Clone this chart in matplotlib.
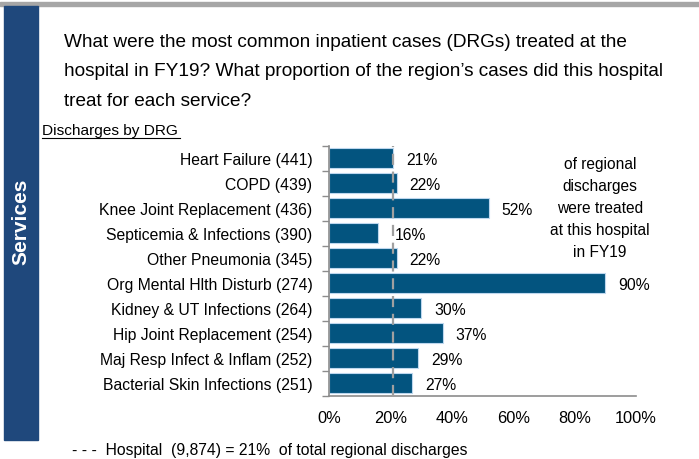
import matplotlib

matplotlib.use("Agg")
import matplotlib.pyplot as plt
from matplotlib.patches import Rectangle

plt.rcParams["font.family"] = ["Liberation Sans", "DejaVu Sans"]

# datos
categorias = [
    "Heart Failure (441)",
    "COPD (439)",
    "Knee Joint Replacement (436)",
    "Septicemia & Infections (390)",
    "Other Pneumonia (345)",
    "Org Mental Hlth Disturb (274)",
    "Kidney & UT Infections (264)",
    "Hip Joint Replacement (254)",
    "Maj Resp Infect & Inflam (252)",
    "Bacterial Skin Infections (251)",
]
pct_regional = [21, 22, 52, 16, 22, 90, 30, 37, 29, 27]
pct_hospital = 21
ticks_x = [0, 20, 40, 60, 80, 100]

titulo = [
    "What were the most common inpatient cases (DRGs) treated at the",
    "hospital in FY19? What proportion of the region\u2019s cases did this hospital",
    "treat for each service?",
]
nota = ["of regional", "discharges", "were treated", "at this hospital", "in FY19"]

W, H = 699, 460
AZUL_BANDA = "#1F487C"
AZUL_BARRA = "#03547F"
GRIS = "#8C8C8C"
FS = 11.3


def fx(x):
    return x / W


def fy(y):
    return 1 - y / H


fig = plt.figure(figsize=(W / 100, H / 100), dpi=100)

# linea gris superior y banda lateral
fig.patches.append(Rectangle((0, fy(7)), 1, fy(3) - fy(7), transform=fig.transFigure,
                             color="#A6A6A6", zorder=0))
fig.patches.append(Rectangle((fx(4), fy(441)), fx(34), fy(7) - fy(441),
                             transform=fig.transFigure, color=AZUL_BANDA, zorder=0))
fig.text(fx(21), fy(222), "Services", rotation=90, color="white", fontsize=15,
         fontweight="bold", ha="center", va="center")

for i, linea in enumerate(titulo):
    fig.text(fx(64), fy(47 + 29.5 * i), linea, fontsize=13.7, ha="left", va="baseline")

fig.text(fx(42), fy(131), "Discharges by DRG", fontsize=11.1, ha="left", va="center")
fig.add_artist(plt.Line2D([fx(42), fx(180)], [fy(139), fy(139)], color="black", lw=0.8))

ax = fig.add_axes([fx(329), fy(396.7), fx(636) - fx(329), fy(146.8) - fy(396.7)])
y = list(range(len(categorias)))
ax.barh(y, pct_regional, height=0.8, color=AZUL_BARRA, edgecolor="#BDD7EE", linewidth=0.8,
        zorder=2)
ax.axvline(pct_hospital, color="#A0A0A0", lw=1.6, dashes=(5, 3), zorder=3)

for yi, v in zip(y, pct_regional):
    if v < pct_hospital:
        ax.annotate(f"{v}%", (pct_hospital, yi), xytext=(1, -1), textcoords="offset points",
                    ha="left", va="center", fontsize=FS)
    else:
        ax.annotate(f"{v}%", (v, yi), xytext=(9.5, -1), textcoords="offset points",
                    ha="left", va="center", fontsize=FS)

ax.set_xlim(0, 100)
ax.set_ylim(len(categorias) - 0.5, -0.5)
ax.set_xticks(ticks_x)
ax.set_xticklabels([f"{t}%" for t in ticks_x], fontsize=11.8)
ax.set_yticks(y)
ax.set_yticklabels(categorias, fontsize=FS)
ax.set_yticks([i - 0.5 for i in range(len(categorias) + 1)], minor=True)
ax.tick_params(axis="y", which="major", length=0, pad=12)
ax.tick_params(axis="y", which="minor", length=5, width=1, color=GRIS)
ax.tick_params(axis="x", length=0, pad=10)
for lado in ["top", "right"]:
    ax.spines[lado].set_visible(False)
for lado in ["left", "bottom"]:
    ax.spines[lado].set_color(GRIS)
    ax.spines[lado].set_linewidth(1.2)

for i, linea in enumerate(nota):
    fig.text(fx(600), fy(165 + 21.8 * i), linea, fontsize=11.2, ha="center", va="center")

fig.text(fx(72), fy(451), "- - -  Hospital  (9,874) = 21%  of total regional discharges",
         fontsize=FS, ha="left", va="center")

fig.savefig("out.png", dpi=100)
